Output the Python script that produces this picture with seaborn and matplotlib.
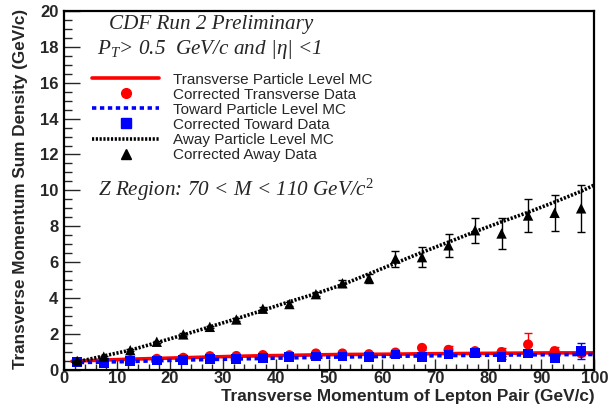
import matplotlib
matplotlib.use("Agg")
import matplotlib.pyplot as plt
import seaborn as sns
import pandas as pd
from matplotlib.lines import Line2D
from matplotlib.ticker import MultipleLocator

# Lepton-pair pT bin centres (GeV/c) for the corrected data
pt_bins = [2.5, 7.5, 12.5, 17.5, 22.5, 27.5, 32.5, 37.5, 42.5, 47.5,
           52.5, 57.5, 62.5, 67.5, 72.5, 77.5, 82.5, 87.5, 92.5, 97.5]

# Corrected data: PTsum density and uncertainty per region
trans_data = [0.45, 0.50, 0.55, 0.62, 0.68, 0.77, 0.78, 0.83, 0.82, 0.92,
              0.92, 0.88, 0.97, 1.23, 1.12, 1.05, 1.00, 1.42, 1.05, 0.93]
trans_err = [0.04, 0.04, 0.04, 0.04, 0.04, 0.05, 0.05, 0.05, 0.05, 0.06,
             0.06, 0.07, 0.08, 0.10, 0.22, 0.10, 0.20, 0.65, 0.22, 0.15]
toward_data = [0.45, 0.40, 0.48, 0.53, 0.55, 0.59, 0.61, 0.65, 0.70, 0.75,
               0.75, 0.72, 0.86, 0.72, 0.86, 0.95, 0.70, 0.92, 0.66, 1.05]
toward_err = [0.03, 0.03, 0.03, 0.03, 0.03, 0.04, 0.04, 0.04, 0.05, 0.05,
              0.05, 0.06, 0.06, 0.07, 0.08, 0.10, 0.10, 0.15, 0.10, 0.45]
away_data = [0.50, 0.74, 1.10, 1.57, 1.98, 2.40, 2.81, 3.41, 3.67, 4.22,
             4.83, 5.10, 6.20, 6.28, 6.94, 7.78, 7.60, 8.60, 8.75, 9.00]
away_err = [0.05, 0.05, 0.06, 0.06, 0.07, 0.07, 0.08, 0.09, 0.10, 0.12,
            0.20, 0.25, 0.45, 0.55, 0.65, 0.70, 0.85, 0.90, 1.00, 1.30]

# Particle-level Monte Carlo curves
mc_pt = [1.5, 2.5, 7.5, 12.5, 17.5, 22.5, 27.5, 32.5, 37.5, 42.5, 47.5,
         52.5, 57.5, 62.5, 67.5, 72.5, 77.5, 82.5, 87.5, 92.5, 97.5, 100.0]
trans_mc = [0.48, 0.50, 0.55, 0.60, 0.64, 0.68, 0.72, 0.76, 0.79, 0.81, 0.84,
            0.86, 0.87, 0.88, 0.90, 0.91, 0.92, 0.93, 0.94, 0.95, 0.95, 0.95]
toward_mc = [0.40, 0.41, 0.44, 0.47, 0.51, 0.55, 0.58, 0.61, 0.64, 0.67, 0.70,
             0.72, 0.74, 0.76, 0.78, 0.80, 0.81, 0.83, 0.84, 0.85, 0.86, 0.86]
away_mc = [0.42, 0.45, 0.78, 1.10, 1.52, 1.95, 2.40, 2.85, 3.32, 3.80, 4.25,
           4.75, 5.35, 5.95, 6.55, 7.12, 7.70, 8.25, 8.78, 9.35, 9.95, 10.30]

# Axis tick values
x_ticks = [0, 10, 20, 30, 40, 50, 60, 70, 80, 90, 100]
y_ticks = [0, 2, 4, 6, 8, 10, 12, 14, 16, 18, 20]

data = pd.DataFrame({"pt": pt_bins,
                     "trans": trans_data, "trans_err": trans_err,
                     "toward": toward_data, "toward_err": toward_err,
                     "away": away_data, "away_err": away_err})
mc = pd.DataFrame({"pt": mc_pt, "trans": trans_mc,
                   "toward": toward_mc, "away": away_mc})

sns.set_style("white")
plt.rcParams["font.family"] = ["Liberation Sans", "DejaVu Sans"]
plt.rcParams["mathtext.fontset"] = "custom"
plt.rcParams["mathtext.rm"] = "Liberation Serif"
plt.rcParams["mathtext.it"] = "Liberation Serif:italic"

fig = plt.figure(figsize=(6.09, 4.09), dpi=100)
ax = fig.add_axes([0.105, 0.0955, 0.871, 0.878])

RED, BLUE, BLACK = "#ff0000", "#0000ff", "#000000"
BLUE_LS = (0, (1.2, 1.0))
BLACK_LS = (0, (0.6, 0.45))

# Transverse region
sns.lineplot(data=mc, x="pt", y="trans", ax=ax, color=RED, lw=2.6,
             sort=False, zorder=2)
ax.errorbar(data["pt"], data["trans"], yerr=data["trans_err"], fmt="none",
            ecolor=RED, elinewidth=1.0, capsize=3, zorder=3)
sns.scatterplot(data=data, x="pt", y="trans", ax=ax, color=RED, marker="o",
                s=52, edgecolor="none", zorder=4)

# Toward region
sns.lineplot(data=mc, x="pt", y="toward", ax=ax, color=BLUE, lw=2.6,
             sort=False, zorder=5)
ax.lines[-1].set_linestyle(BLUE_LS)
ax.errorbar(data["pt"], data["toward"], yerr=data["toward_err"], fmt="none",
            ecolor=BLUE, elinewidth=1.0, capsize=3, zorder=6)
sns.scatterplot(data=data, x="pt", y="toward", ax=ax, color=BLUE, marker="s",
                s=50, edgecolor="none", zorder=7)

# Away region
sns.lineplot(data=mc, x="pt", y="away", ax=ax, color=BLACK, lw=2.6,
             sort=False, zorder=8)
ax.lines[-1].set_linestyle(BLACK_LS)
ax.errorbar(data["pt"], data["away"], yerr=data["away_err"], fmt="none",
            ecolor=BLACK, elinewidth=1.0, capsize=3, zorder=9)
sns.scatterplot(data=data, x="pt", y="away", ax=ax, color=BLACK, marker="^",
                s=56, edgecolor="none", zorder=10)

ax.set_xlim(0, 100)
ax.set_ylim(0, 20)
ax.set_xticks(x_ticks, labels=[str(t) for t in x_ticks], fontweight="bold",
              fontsize=12)
ax.set_yticks(y_ticks, labels=[str(t) for t in y_ticks], fontweight="bold",
              fontsize=12)
ax.xaxis.set_minor_locator(MultipleLocator(2))
ax.yaxis.set_minor_locator(MultipleLocator(0.5))
ax.tick_params(axis="x", which="major", direction="in", length=8, width=1.0,
               pad=1, bottom=True, top=False)
ax.tick_params(axis="x", which="minor", direction="in", length=4, width=1.0,
               bottom=True, top=False)
ax.tick_params(axis="y", which="major", direction="in", length=11.5, width=1.0,
               pad=4, left=True, right=False)
ax.tick_params(axis="y", which="minor", direction="in", length=5.8, width=1.0,
               left=True, right=False)
for sp in ax.spines.values():
    sp.set_linewidth(1.6)
    sp.set_color("black")

ax.set_xlabel("Transverse Momentum of Lepton Pair (GeV/c)", fontsize=12.4,
              fontweight="bold", ha="right", va="center")
ax.xaxis.set_label_coords(1.0, -0.073)
ax.set_ylabel("Transverse Momentum Sum Density (GeV/c)", fontsize=12.3,
              fontweight="bold", va="center")
ax.yaxis.set_label_coords(-0.081, 0.505)

serif = ["Liberation Serif", "DejaVu Serif"]
ax.text(0.085, 0.962, "CDF Run 2 Preliminary", transform=ax.transAxes,
        fontsize=15.2, family=serif, style="italic", va="center")
ax.text(0.063, 0.893, r"$P_{T}$> 0.5  GeV/c and |η| <1", transform=ax.transAxes,
        fontsize=15.2, family=serif, style="italic", va="center")
ax.text(0.065, 0.5, r"Z Region: 70 < M < 110 GeV/c$^{2}$", transform=ax.transAxes,
        fontsize=15.2, family=serif, style="italic", va="center")

handles = [
    Line2D([], [], color=RED, lw=2.6),
    Line2D([], [], color=RED, marker="o", ls="none", ms=7),
    Line2D([], [], color=BLUE, lw=2.6, ls=BLUE_LS),
    Line2D([], [], color=BLUE, marker="s", ls="none", ms=7),
    Line2D([], [], color=BLACK, lw=2.6, ls=BLACK_LS),
    Line2D([], [], color=BLACK, marker="^", ls="none", ms=7),
]
labels = ["Transverse Particle Level MC", "Corrected Transverse Data",
          "Toward Particle Level MC", "Corrected Toward Data",
          "Away Particle Level MC", "Corrected Away Data"]
ax.legend(handles, labels, loc="upper left", bbox_to_anchor=(0.053, 0.828),
          frameon=False, fontsize=11, handlelength=4.4, handletextpad=0.9,
          labelspacing=0.07, borderpad=0.0, borderaxespad=0.0)

fig.savefig("out.png", dpi=100)
